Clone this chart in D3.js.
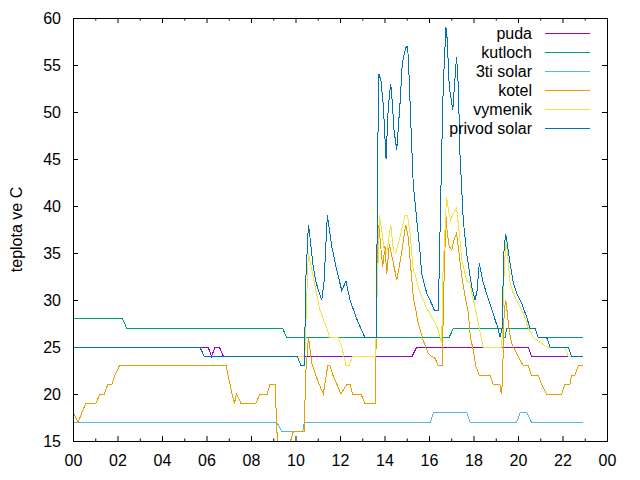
<!DOCTYPE html>
<html>
<head>
<meta charset="utf-8">
<script src="https://cdn.jsdelivr.net/npm/d3@7"></script>
<style>
  body { margin: 0; background: #fff; }
  svg { display: block; font-family: "Liberation Sans", Arial, sans-serif; }
</style>
</head>
<body>
<div id="chart"></div>
<script>
// data: [hour of day, temperature in C]
var puda = [[0,25],[6.07,25],[6.23,24],[6.38,25],[6.58,25],[6.76,24],[15.24,24],[15.45,25],[20.47,25],[20.6,24],[22.92,24]];

var kutloch = [[0,28],[2.23,28],[2.41,27],[9.42,27],[9.6,26],[16.9,26],[17.1,27],[19.26,27],[19.32,26],[19.42,26],[19.49,27],[20.76,27],[20.91,26],[22.92,26]];

var solar3ti = [[0,17],[9.15,17],[9.4,16],[10.32,16],[10.4,17],[16.05,17],[16.2,18],[17.7,18],[17.85,17],[19.94,17],[20.1,18],[20.4,18],[20.6,17],[22.92,17]];

var kotel = [[0,18],[0.24,17],[0.39,18],[0.58,19],[1.03,19],[1.21,20],[1.41,20],[1.56,21],[1.74,21],[1.89,22],[2.08,23],
  [6.88,23],[6.97,22],[7.15,20],[7.25,19],[7.35,20],[7.55,19],[8.22,19],[8.4,20],[8.73,20],[8.85,21],[9.08,21],
  [9.22,13],[9.54,13],[9.9,16],[10.4,16],[10.45,22],[10.58,26],[10.62,25.4],[10.73,23.3],[10.88,22.2],[11.07,21],[11.25,20],
  [11.45,23],[11.55,23],[11.68,22],[11.87,21],[12.04,20],[12.3,21],[12.45,21],[12.57,20],[12.94,20],[13.12,19],[13.59,19],
  [13.68,37.1],[13.75,38],[13.83,35.7],[13.92,33.5],[14.02,35.7],[14.1,32.8],[14.22,36],[14.4,33.9],[14.55,32.1],[14.77,35],
  [14.95,38],[15.07,36.7],[15.15,34.3],[15.29,30.4],[15.52,27.5],[15.74,25.7],[15.97,24.3],[16.12,24],[16.27,23.8],[16.42,23],[16.6,23],
  [16.65,30],[16.76,38.9],[16.82,37.1],[16.91,35.7],[17.02,35.3],[17.12,36.4],[17.24,37.1],[17.35,35],[17.47,32.5],[17.62,30.4],
  [17.77,28.6],[17.86,26],[17.99,24.7],[18.1,23],[18.25,22],[18.74,22],[18.88,21],[19.19,21],[19.25,20],[19.3,21.2],[19.34,25],
  [19.38,28.9],[19.45,30],[19.52,28.6],[19.6,26.8],[19.72,25.4],[19.79,25],[19.94,24.3],[20.09,23.6],[20.24,23],[20.46,23],
  [20.61,22],[20.91,22],[21.06,21],[21.29,20],[21.96,20],[22.11,21],[22.33,21],[22.41,22],[22.56,22],[22.71,23],[22.92,23]];

var vymenik = [[0,25],[5.7,25],[5.9,24],[10.42,24],[10.5,30],[10.58,35],[10.73,33.2],[11.1,28.9],[11.33,27.5],[11.55,26],[11.92,26],
  [12.08,25],[12.27,23],[12.4,23],[12.57,24],[13.6,24],[13.66,30],[13.77,39],[13.87,37.4],[13.99,35.3],[14.1,35],[14.28,38],
  [14.4,35.3],[14.5,35],[14.7,36.7],[14.92,39],[15.03,39],[15.15,37.1],[15.29,33.2],[15.37,32.8],[15.55,31.1],[15.85,29.3],
  [16.12,28.2],[16.19,27.9],[16.42,26.8],[16.57,25.4],[16.63,33],[16.79,41],[16.87,39.6],[16.97,38.5],[17.09,39.2],[17.24,39.8],
  [17.36,37.1],[17.47,34.3],[17.69,32.1],[17.84,31.8],[17.99,30],[18.1,28.9],[18.29,26.6],[18.44,25],[19.27,25],[19.37,32.5],
  [19.45,36.2],[19.52,35.3],[19.64,31.8],[19.79,30.7],[20.01,29.6],[20.24,28.6],[20.46,27],[20.69,26],[21.29,25],[22.11,25],
  [22.26,24],[22.92,24]];

var privodSolar = [[0,25],[5.7,25],[5.9,24],[10.08,24],[10.25,23],[10.4,23],[10.46,32],[10.5,34],[10.58,38],[10.62,37.4],
  [10.68,36],[10.8,33.5],[10.91,32],[11.1,30.5],[11.18,30],[11.28,31.8],[11.43,39],[11.63,35.7],[11.85,33.2],[12.08,31],
  [12.27,32],[12.45,30],[12.75,28],[13.12,26],[13.62,26],[13.65,29.3],[13.68,43.5],[13.75,54],[13.84,53.4],[13.95,50.6],
  [14.07,45],[14.17,50.6],[14.28,53],[14.35,51],[14.43,48],[14.55,46],[14.7,51],[14.8,55.2],[14.95,56.8],[15.01,57],
  [15.07,56],[15.18,49],[15.29,42.4],[15.45,38.5],[15.6,35],[15.67,32.8],[15.9,30.7],[16.12,29.6],[16.24,28.9],[16.42,28.9],
  [16.57,45.6],[16.64,52.7],[16.76,59],[16.82,57.7],[16.91,52.7],[17.07,50.2],[17.14,52.7],[17.24,55.9],[17.32,52.7],
  [17.39,45.6],[17.54,38.5],[17.69,35],[17.92,31.4],[18.07,30],[18.16,31],[18.26,33.9],[18.41,32.1],[18.52,31.2],
  [18.74,29.6],[18.97,27.9],[19.1,27],[19.19,26.1],[19.29,27],[19.34,33.2],[19.38,35.7],[19.45,37],[19.52,36],[19.64,33.9],
  [19.79,31.8],[19.94,30.7],[20.17,29.6],[20.39,28.2],[20.54,27],[20.76,27],[20.91,26],[21.29,26],[21.44,25],[22.26,25],
  [22.41,24],[22.92,24]];

var seriesNames = ["puda", "kutloch", "3ti solar", "kotel", "vymenik", "privod solar"];
var seriesData = [puda, kutloch, solar3ti, kotel, vymenik, privodSolar];
var seriesColors = ["#9400d3", "#009e73", "#56b4e9", "#e69f00", "#f0e442", "#0072b2"];

var xTicks = [0, 2, 4, 6, 8, 10, 12, 14, 16, 18, 20, 22, 24];
var yTicks = [15, 20, 25, 30, 35, 40, 45, 50, 55, 60];

var W = 640, H = 480;
//plot box (window.top is taken, so prefixed names)
var pLeft = 73, pRight = 607, pTop = 18, pBottom = 441;

var svg = d3.select("#chart").append("svg")
  .attr("width", W)
  .attr("height", H);

var x = d3.scaleLinear().domain([0, 24]).range([pLeft, pRight]);
var y = d3.scaleLinear().domain([15, 60]).range([pBottom, pTop]);

var fmtHour = function(d) { return d3.format("02d")(d % 24); };

//axes, ticks point inward like gnuplot
svg.append("g").attr("transform", "translate(0," + pBottom + ")")
  .call(d3.axisBottom(x).tickValues(xTicks).tickFormat(fmtHour).tickSize(-5).tickPadding(14));
svg.append("g").attr("transform", "translate(0," + pBottom + ")")
  .call(d3.axisBottom(x).tickValues(d3.range(1, 24, 2)).tickFormat("").tickSize(-2.5));
svg.append("g").attr("transform", "translate(0," + pTop + ")")
  .call(d3.axisTop(x).tickValues(xTicks).tickFormat("").tickSize(-5));
svg.append("g").attr("transform", "translate(0," + pTop + ")")
  .call(d3.axisTop(x).tickValues(d3.range(1, 24, 2)).tickFormat("").tickSize(-2.5));
svg.append("g").attr("transform", "translate(" + pLeft + ",0)")
  .call(d3.axisLeft(y).tickValues(yTicks).tickSize(-5).tickPadding(12));
svg.append("g").attr("transform", "translate(" + pRight + ",0)")
  .call(d3.axisRight(y).tickValues(yTicks).tickFormat("").tickSize(-5));

svg.selectAll(".domain").remove();
svg.selectAll(".tick line").attr("stroke", "#000").attr("stroke-width", 1);
svg.selectAll(".tick text")
  .attr("fill", "#000")
  .style("font-size", "16px")
  .style("font-family", "'Liberation Sans', Arial, sans-serif");

//clip
svg.append("clipPath").attr("id", "plotClip")
  .append("rect")
  .attr("x", pLeft).attr("y", pTop)
  .attr("width", pRight - pLeft).attr("height", pBottom - pTop);

var line = d3.line()
  .x(function(d) { return x(d[0]); })
  .y(function(d) { return y(d[1]); });

var lines = svg.append("g").attr("clip-path", "url(#plotClip)");
lines.selectAll("path")
  .data(seriesData).enter()
  .append("path")
  .attr("d", line)
  .attr("fill", "none")
  .attr("stroke", function(d, i) { return seriesColors[i]; })
  .attr("stroke-width", 1)
  .attr("shape-rendering", "crispEdges");

//border
svg.append("rect")
  .attr("x", pLeft + 0.5).attr("y", pTop + 0.5)
  .attr("width", pRight - pLeft).attr("height", pBottom - pTop)
  .attr("fill", "none")
  .attr("stroke", "#000")
  .attr("stroke-width", 1);

//y label
svg.append("text")
  .attr("transform", "translate(22," + ((pTop + pBottom) / 2) + ") rotate(-90)")
  .attr("text-anchor", "middle")
  .style("font-size", "16px")
  .attr("fill", "#000")
  .text("teplota ve C");

//legend
var legend = svg.append("g");
var rows = legend.selectAll("g")
  .data(seriesNames).enter()
  .append("g")
  .attr("transform", function(d, i) { return "translate(0," + (33 + i * 19) + ")"; });
rows.append("text")
  .attr("x", 532)
  .attr("y", 0.5)
  .attr("dy", "0.35em")
  .attr("text-anchor", "end")
  .style("font-size", "16px")
  .attr("fill", "#000")
  .text(function(d) { return d; });
rows.append("line")
  .attr("x1", 545).attr("x2", 590)
  .attr("y1", 0.5).attr("y2", 0.5)
  .attr("stroke", function(d, i) { return seriesColors[i]; })
  .attr("stroke-width", 1);
</script>
</body>
</html>
